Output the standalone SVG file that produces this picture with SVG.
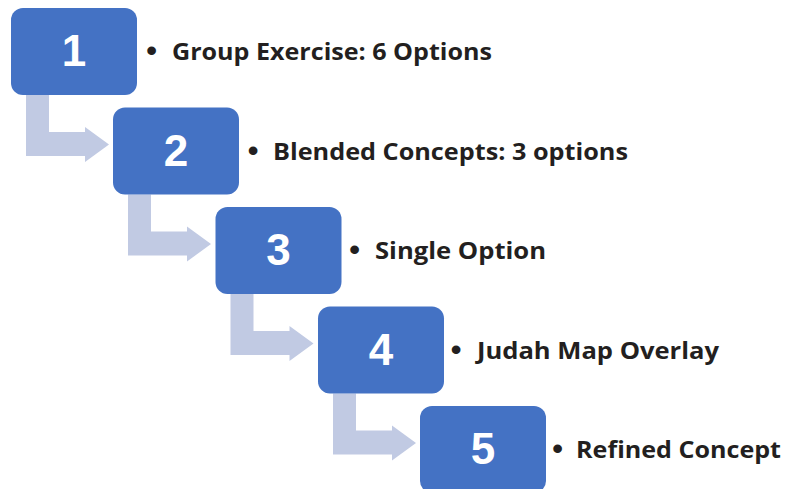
<svg xmlns="http://www.w3.org/2000/svg" width="785" height="489" viewBox="0 0 785 489">
<style>
.box{fill:#4472C4}
.num{fill:#fff;font-family:"Liberation Sans",Arial,sans-serif;font-weight:bold;font-size:44px;text-anchor:middle}
.lbl{fill:#231F20;font-family:"Open Sans",Lato,sans-serif;font-weight:bold;font-size:23.5px}
.bul{fill:#231F20;font-family:"Liberation Sans",Arial,sans-serif;font-size:32px}
.arr{fill:#C1CAE3}
</style>
<defs>
<path id="arrow" class="arr" d="M0 0 H23 V37 H59 V32 L83 49.5 L59 67 V61 H0 Z"/>
</defs>
<g id="connectors">
<use href="#arrow" x="26" y="95"/>
<use href="#arrow" x="128" y="194.5"/>
<use href="#arrow" x="230.5" y="294"/>
<use href="#arrow" x="333" y="393.5"/>
</g>
<g id="n1"><rect class="box" x="11" y="8" width="126" height="87" rx="12"/><text class="num" x="74" y="66">1</text><text class="bul" x="146" y="61">•</text><text class="lbl" x="172" y="60" textLength="320" lengthAdjust="spacingAndGlyphs">Group Exercise: 6 Options</text></g>
<g id="n2"><rect class="box" x="113" y="107.5" width="126" height="87" rx="12"/><text class="num" x="176" y="165.5">2</text><text class="bul" x="247.5" y="160.5">•</text><text class="lbl" x="273" y="159.5" textLength="355" lengthAdjust="spacingAndGlyphs">Blended Concepts: 3 options</text></g>
<g id="n3"><rect class="box" x="215.5" y="207" width="126" height="87" rx="12"/><text class="num" x="278.5" y="265">3</text><text class="bul" x="349" y="260">•</text><text class="lbl" x="375" y="259" textLength="171" lengthAdjust="spacingAndGlyphs">Single Option</text></g>
<g id="n4"><rect class="box" x="318" y="306.5" width="126" height="87" rx="12"/><text class="num" x="381" y="364.5">4</text><text class="bul" x="450.5" y="359.5">•</text><text class="lbl" x="477" y="358.5" textLength="242" lengthAdjust="spacingAndGlyphs">Judah Map Overlay</text></g>
<g id="n5"><rect class="box" x="420" y="406" width="126" height="87" rx="12"/><text class="num" x="483" y="464">5</text><text class="bul" x="552" y="459">•</text><text class="lbl" x="576" y="458" textLength="205" lengthAdjust="spacingAndGlyphs">Refined Concept</text></g>
</svg>
